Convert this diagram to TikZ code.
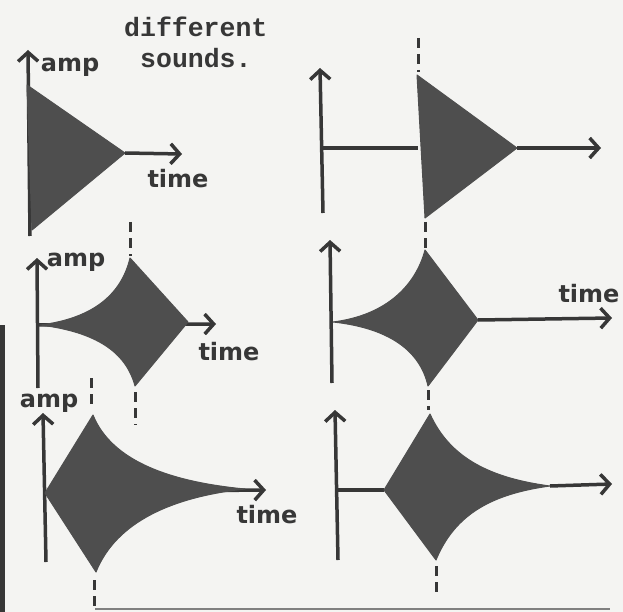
\documentclass[tikz,border=0pt]{standalone}
\usepackage{fontspec}
\usepackage{tikz}
\usetikzlibrary{arrows.meta}
\newfontfamily\typefont{Liberation Mono}
\newfontfamily\handfont{DejaVu Sans}
\definecolor{paper}{RGB}{244,244,242}
\definecolor{ink}{RGB}{55,55,55}
\definecolor{envgray}{RGB}{78,78,78}
\newcommand{\peakdash}[3]{
\draw[peakline] (#1,#2) -- (#1,#3);
}

\begin{document}
\begin{tikzpicture}[x=1pt, y=-1pt,
    ampaxis/.style={ink, line width=3.5pt, -{Straight Barb[length=9pt,width=20pt]}},
    flatline/.style={ink, line width=3.5pt},
    envelope/.style={fill=envgray, draw=envgray, line width=1pt, line join=round},
    peakline/.style={ink, line width=3pt, dash pattern=on 10pt off 6pt},
    lbl/.style={inner sep=0pt, ink, font=\handfont\bfseries\fontsize{24}{26}\selectfont},
    typed/.style={inner sep=0pt, ink, anchor=base west, font=\typefont\bfseries\fontsize{26.5}{31}\selectfont}]
    \useasboundingbox[fill=paper] (0,0) rectangle (623,612);
    % scan edges
    \fill[ink] (0,325) rectangle (5,612);
    \draw[gray, line width=2.5pt] (95,609) -- (610,609);
    % title
    \node[typed] (diff) at (124,37) {different};
    \node[typed] (snds) at (140,68) {sounds.};
    % top left: sudden attack, linear decay
    \draw[ampaxis] (30,236) -- (28,50);
    \fill[envelope] (27,85) -- (125,153) -- (32,230) -- cycle;
    \draw[ampaxis] (125,153) -- (182,154);
    \node[lbl] (amp1) at (70,67) {amp};
    \node[lbl] (time1) at (178,179) {time};
    % top right: delayed start
    \draw[ampaxis] (323,213) -- (320,68);
    \draw[flatline] (323,148) -- (418,148);
    \fill[envelope] (417,75) -- (517,148) -- (425,218) -- cycle;
    \draw[ampaxis] (517,148) -- (601,148);
    % middle left: swell then linear decay
    \draw[ampaxis] (38,388) -- (37,258);
    \draw[ampaxis] (38,325) -- (216,324);
    \fill[envelope] (40,325) .. controls (96,318) and (122,292) .. (130,258)
        -- (188,322) -- (135,386) .. controls (126,352) and (96,332) .. cycle;
    \node[lbl] (amp3) at (76,262) {amp};
    \node[lbl] (time3) at (229,352) {time};
    % middle right
    \draw[ampaxis] (332,383) -- (330,240);
    \fill[envelope] (333,322) .. controls (388,315) and (416,284) .. (425,250)
        -- (478,320) -- (428,386) .. controls (420,350) and (388,328) .. cycle;
    \draw[ampaxis] (478,320) -- (612,318);
    \node[lbl] (time4) at (589,294) {time};
    % bottom left: linear attack, long decay
    \draw[ampaxis] (46,562) -- (43,413);
    \draw[ampaxis] (45,492) -- (266,490);
    \fill[envelope] (45,493) -- (93,415) .. controls (112,462) and (172,482) .. (245,489)
        .. controls (172,497) and (116,522) .. (96,572) -- cycle;
    \node[lbl] (amp5) at (49,403) {amp};
    \node[lbl] (time5) at (267,515) {time};
    % bottom right
    \draw[ampaxis] (338,560) -- (335,410);
    \draw[flatline] (337,490) -- (384,490);
    \fill[envelope] (384,490) -- (430,414) .. controls (450,458) and (490,478) .. (550,486)
        .. controls (492,494) and (455,514) .. (436,560) -- cycle;
    \draw[ampaxis] (550,486) -- (612,484);
    % peak markers
    \peakdash{418}{38}{72}
    \peakdash{425}{222}{250}
    \peakdash{130}{222}{256}
    \peakdash{135}{392}{425}
    \peakdash{428}{390}{410}
    \peakdash{91}{378}{410}
    \peakdash{94}{580}{612}
    \peakdash{436}{566}{592}
\end{tikzpicture}
\end{document}
